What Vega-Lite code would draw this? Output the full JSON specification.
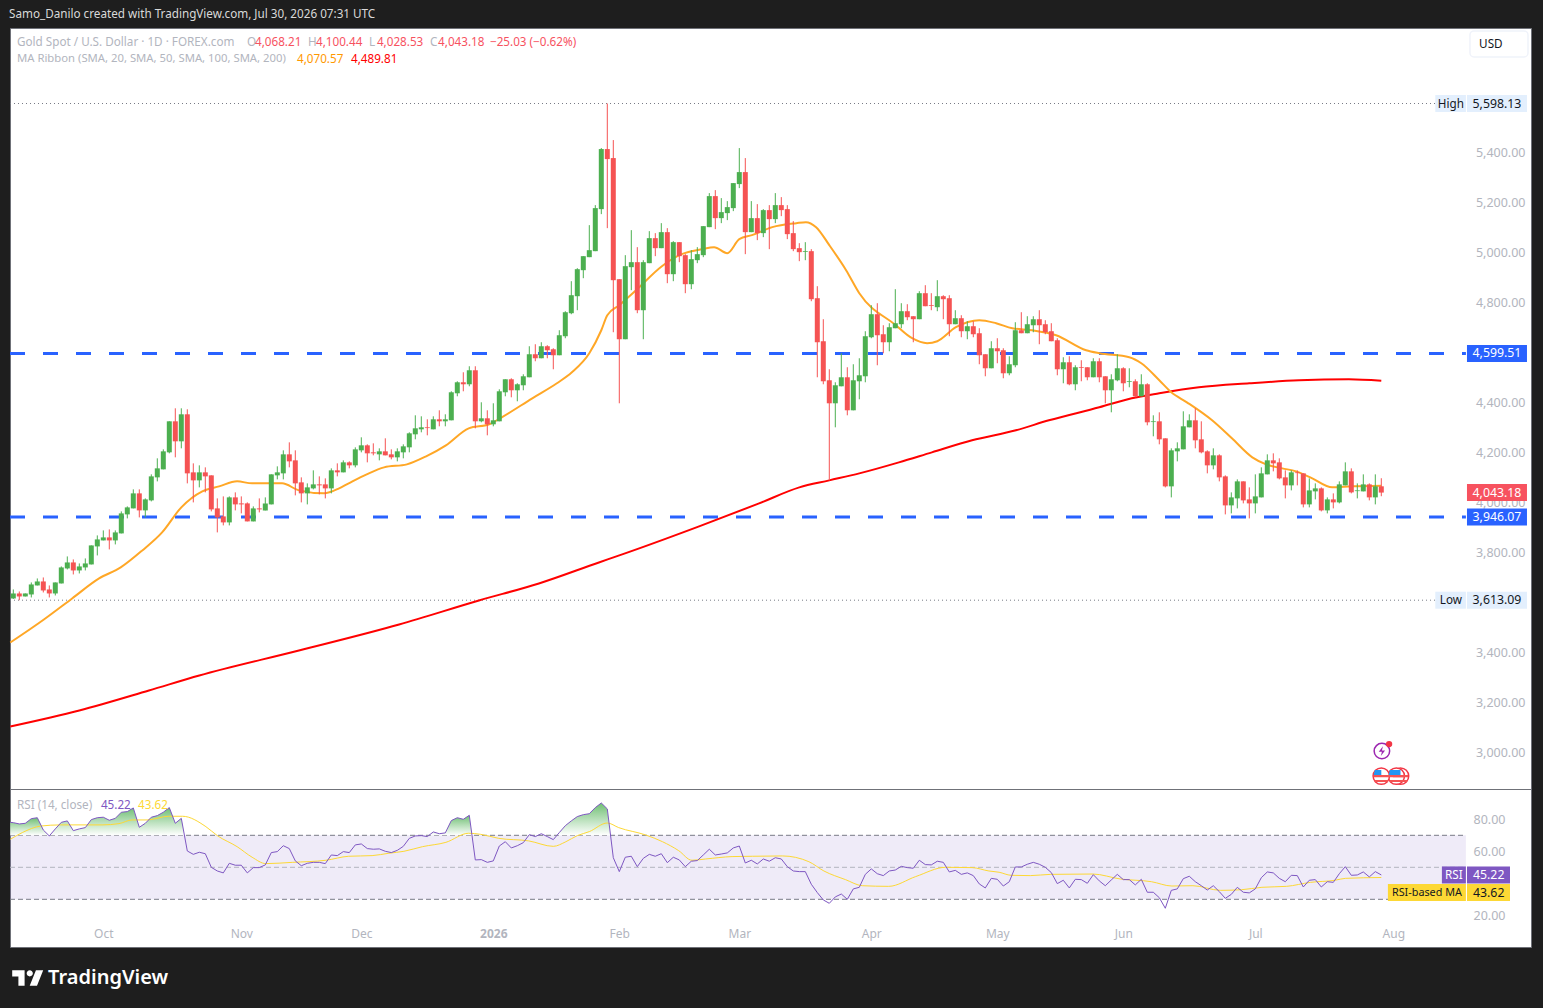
{
"$schema":"https://vega.github.io/schema/vega-lite/v6.json",
"background":"#1e1e1e",
"padding":{"left":5,"top":8,"right":13,"bottom":19},
"spacing":0,
"bounds":"flush",
"config":{"font":"Noto Sans","view":{"fill":"#ffffff","stroke":"#6f7178","strokeWidth":1},"axis":{"grid":false,"title":null,"domain":false,"ticks":false,"tickSize":0,"labelColor":"#b2b5be","labelFontSize":12.5},"text":{"fontSize":11.7}},
"datasets":{
"candles":[
{"i":0,"o":3620,"h":3656,"l":3618,"c":3640},{"i":1,"o":3640,"h":3648,"l":3613.09,"c":3628},{"i":2,"o":3628,"h":3640,"l":3628,"c":3640},{"i":3,"o":3636,"h":3684,"l":3624,"c":3676},{"i":4,"o":3672,"h":3700,"l":3672,"c":3688},{"i":5,"o":3688,"h":3704,"l":3644,"c":3652},{"i":6,"o":3656,"h":3672,"l":3624,"c":3640},{"i":7,"o":3640,"h":3684,"l":3632,"c":3684},{"i":8,"o":3680,"h":3748,"l":3680,"c":3744},{"i":9,"o":3740,"h":3788,"l":3736,"c":3764},
{"i":10,"o":3764,"h":3776,"l":3716,"c":3732},{"i":11,"o":3732,"h":3760,"l":3720,"c":3748},{"i":12,"o":3744,"h":3780,"l":3732,"c":3760},{"i":13,"o":3756,"h":3832,"l":3756,"c":3832},{"i":14,"o":3828,"h":3872,"l":3792,"c":3856},{"i":15,"o":3852,"h":3892,"l":3852,"c":3864},{"i":16,"o":3864,"h":3896,"l":3816,"c":3852},{"i":17,"o":3852,"h":3892,"l":3836,"c":3884},{"i":18,"o":3880,"h":3968,"l":3880,"c":3960},{"i":19,"o":3956,"h":3988,"l":3940,"c":3984},
{"i":20,"o":3980,"h":4056,"l":3980,"c":4040},{"i":21,"o":4040,"h":4056,"l":3944,"c":3972},{"i":22,"o":3972,"h":4020,"l":3944,"c":4016},{"i":23,"o":4012,"h":4116,"l":4008,"c":4108},{"i":24,"o":4104,"h":4180,"l":4088,"c":4140},{"i":25,"o":4136,"h":4216,"l":4136,"c":4208},{"i":26,"o":4204,"h":4328,"l":4200,"c":4328},{"i":27,"o":4328,"h":4380,"l":4184,"c":4248},{"i":28,"o":4248,"h":4380,"l":4220,"c":4356},{"i":29,"o":4356,"h":4376,"l":4080,"c":4120},
{"i":30,"o":4124,"h":4160,"l":4004,"c":4092},{"i":31,"o":4092,"h":4152,"l":4064,"c":4124},{"i":32,"o":4124,"h":4144,"l":4044,"c":4108},{"i":33,"o":4112,"h":4112,"l":3968,"c":3976},{"i":34,"o":3980,"h":4020,"l":3884,"c":3944},{"i":35,"o":3948,"h":4028,"l":3912,"c":3924},{"i":36,"o":3924,"h":4028,"l":3912,"c":4024},{"i":37,"o":4024,"h":4044,"l":3972,"c":3996},{"i":38,"o":4000,"h":4028,"l":3960,"c":3996},{"i":39,"o":4000,"h":4004,"l":3928,"c":3928},
{"i":40,"o":3928,"h":3988,"l":3928,"c":3980},{"i":41,"o":3980,"h":4020,"l":3964,"c":3976},{"i":42,"o":3972,"h":4024,"l":3972,"c":4000},{"i":43,"o":3996,"h":4116,"l":3996,"c":4116},{"i":44,"o":4112,"h":4148,"l":4096,"c":4124},{"i":45,"o":4120,"h":4212,"l":4096,"c":4196},{"i":46,"o":4196,"h":4244,"l":4144,"c":4168},{"i":47,"o":4172,"h":4212,"l":4032,"c":4080},{"i":48,"o":4084,"h":4104,"l":4004,"c":4040},{"i":49,"o":4040,"h":4080,"l":3996,"c":4064},
{"i":50,"o":4060,"h":4132,"l":4056,"c":4076},{"i":51,"o":4076,"h":4108,"l":4036,"c":4072},{"i":52,"o":4076,"h":4100,"l":4020,"c":4060},{"i":53,"o":4060,"h":4140,"l":4040,"c":4132},{"i":54,"o":4132,"h":4160,"l":4108,"c":4124},{"i":55,"o":4124,"h":4172,"l":4124,"c":4164},{"i":56,"o":4164,"h":4168,"l":4140,"c":4152},{"i":57,"o":4152,"h":4224,"l":4144,"c":4216},{"i":58,"o":4212,"h":4264,"l":4204,"c":4232},{"i":59,"o":4232,"h":4236,"l":4164,"c":4200},
{"i":60,"o":4204,"h":4240,"l":4192,"c":4200},{"i":61,"o":4196,"h":4220,"l":4172,"c":4208},{"i":62,"o":4208,"h":4260,"l":4192,"c":4192},{"i":63,"o":4196,"h":4216,"l":4176,"c":4184},{"i":64,"o":4184,"h":4220,"l":4168,"c":4208},{"i":65,"o":4204,"h":4236,"l":4180,"c":4228},{"i":66,"o":4224,"h":4284,"l":4204,"c":4280},{"i":67,"o":4276,"h":4352,"l":4256,"c":4300},{"i":68,"o":4296,"h":4348,"l":4284,"c":4304},{"i":69,"o":4304,"h":4336,"l":4272,"c":4301},
{"i":70,"o":4296,"h":4348,"l":4296,"c":4336},{"i":71,"o":4336,"h":4372,"l":4308,"c":4328},{"i":72,"o":4328,"h":4356,"l":4308,"c":4336},{"i":73,"o":4332,"h":4448,"l":4332,"c":4444},{"i":74,"o":4440,"h":4488,"l":4428,"c":4484},{"i":75,"o":4484,"h":4524,"l":4448,"c":4476},{"i":76,"o":4476,"h":4548,"l":4468,"c":4532},{"i":77,"o":4532,"h":4548,"l":4300,"c":4328},{"i":78,"o":4328,"h":4404,"l":4324,"c":4340},{"i":79,"o":4340,"h":4372,"l":4272,"c":4316},
{"i":80,"o":4316,"h":4400,"l":4308,"c":4332},{"i":81,"o":4328,"h":4456,"l":4328,"c":4448},{"i":82,"o":4444,"h":4496,"l":4428,"c":4496},{"i":83,"o":4496,"h":4500,"l":4424,"c":4452},{"i":84,"o":4452,"h":4480,"l":4408,"c":4476},{"i":85,"o":4472,"h":4516,"l":4452,"c":4508},{"i":86,"o":4504,"h":4628,"l":4504,"c":4596},{"i":87,"o":4596,"h":4636,"l":4568,"c":4580},{"i":88,"o":4580,"h":4644,"l":4580,"c":4628},{"i":89,"o":4628,"h":4632,"l":4580,"c":4612},
{"i":90,"o":4616,"h":4620,"l":4536,"c":4592},{"i":91,"o":4592,"h":4692,"l":4592,"c":4672},{"i":92,"o":4668,"h":4768,"l":4660,"c":4764},{"i":93,"o":4760,"h":4888,"l":4756,"c":4832},{"i":94,"o":4828,"h":4940,"l":4772,"c":4936},{"i":95,"o":4932,"h":4988,"l":4900,"c":4988},{"i":96,"o":4984,"h":5112,"l":4984,"c":5012},{"i":97,"o":5008,"h":5192,"l":5008,"c":5180},{"i":98,"o":5176,"h":5420,"l":5156,"c":5416},{"i":99,"o":5416,"h":5598.13,"l":5100,"c":5376},
{"i":100,"o":5380,"h":5452,"l":4684,"c":4892},{"i":101,"o":4896,"h":4896,"l":4400,"c":4656},{"i":102,"o":4656,"h":4992,"l":4656,"c":4948},{"i":103,"o":4944,"h":5092,"l":4852,"c":4964},{"i":104,"o":4964,"h":5024,"l":4760,"c":4772},{"i":105,"o":4772,"h":4972,"l":4656,"c":4964},{"i":106,"o":4960,"h":5088,"l":4960,"c":5060},{"i":107,"o":5060,"h":5080,"l":4988,"c":5020},{"i":108,"o":5020,"h":5120,"l":5020,"c":5084},{"i":109,"o":5084,"h":5100,"l":4880,"c":4916},
{"i":110,"o":4916,"h":5048,"l":4888,"c":5044},{"i":111,"o":5044,"h":5044,"l":4964,"c":4988},{"i":112,"o":4992,"h":4996,"l":4840,"c":4876},{"i":113,"o":4876,"h":5012,"l":4856,"c":4976},{"i":114,"o":4972,"h":5024,"l":4960,"c":4996},{"i":115,"o":4992,"h":5108,"l":4984,"c":5108},{"i":116,"o":5104,"h":5240,"l":5104,"c":5228},{"i":117,"o":5228,"h":5252,"l":5096,"c":5140},{"i":118,"o":5140,"h":5220,"l":5120,"c":5164},{"i":119,"o":5160,"h":5208,"l":5132,"c":5184},
{"i":120,"o":5180,"h":5280,"l":5168,"c":5280},{"i":121,"o":5276,"h":5420,"l":5260,"c":5324},{"i":122,"o":5324,"h":5380,"l":4996,"c":5084},{"i":123,"o":5084,"h":5208,"l":5084,"c":5140},{"i":124,"o":5140,"h":5196,"l":5052,"c":5080},{"i":125,"o":5080,"h":5176,"l":5064,"c":5172},{"i":126,"o":5172,"h":5192,"l":5016,"c":5136},{"i":127,"o":5136,"h":5240,"l":5120,"c":5192},{"i":128,"o":5192,"h":5224,"l":5148,"c":5172},{"i":129,"o":5176,"h":5192,"l":5056,"c":5076},
{"i":130,"o":5080,"h":5128,"l":5008,"c":5016},{"i":131,"o":5020,"h":5040,"l":4968,"c":5004},{"i":132,"o":5005,"h":5044,"l":4972,"c":5008},{"i":133,"o":5008,"h":5016,"l":4808,"c":4816},{"i":134,"o":4820,"h":4868,"l":4504,"c":4644},{"i":135,"o":4648,"h":4736,"l":4476,"c":4488},{"i":136,"o":4492,"h":4536,"l":4092,"c":4400},{"i":137,"o":4400,"h":4484,"l":4304,"c":4472},{"i":138,"o":4468,"h":4600,"l":4468,"c":4504},{"i":139,"o":4504,"h":4544,"l":4352,"c":4372},
{"i":140,"o":4372,"h":4556,"l":4372,"c":4492},{"i":141,"o":4488,"h":4580,"l":4416,"c":4512},{"i":142,"o":4508,"h":4688,"l":4484,"c":4668},{"i":143,"o":4664,"h":4792,"l":4660,"c":4756},{"i":144,"o":4756,"h":4800,"l":4552,"c":4672},{"i":145,"o":4676,"h":4712,"l":4600,"c":4644},{"i":146,"o":4644,"h":4720,"l":4608,"c":4704},{"i":147,"o":4700,"h":4856,"l":4700,"c":4720},{"i":148,"o":4716,"h":4800,"l":4700,"c":4768},{"i":149,"o":4768,"h":4796,"l":4732,"c":4744},
{"i":150,"o":4748,"h":4748,"l":4644,"c":4736},{"i":151,"o":4736,"h":4848,"l":4736,"c":4840},{"i":152,"o":4840,"h":4872,"l":4788,"c":4788},{"i":153,"o":4792,"h":4840,"l":4772,"c":4789},{"i":154,"o":4784,"h":4892,"l":4768,"c":4828},{"i":155,"o":4828,"h":4832,"l":4736,"c":4816},{"i":156,"o":4820,"h":4832,"l":4668,"c":4716},{"i":157,"o":4716,"h":4772,"l":4716,"c":4740},{"i":158,"o":4740,"h":4752,"l":4664,"c":4688},{"i":159,"o":4688,"h":4728,"l":4656,"c":4708},
{"i":160,"o":4708,"h":4728,"l":4664,"c":4676},{"i":161,"o":4680,"h":4700,"l":4556,"c":4592},{"i":162,"o":4596,"h":4596,"l":4508,"c":4540},{"i":163,"o":4540,"h":4648,"l":4540,"c":4620},{"i":164,"o":4620,"h":4660,"l":4560,"c":4608},{"i":165,"o":4612,"h":4620,"l":4500,"c":4520},{"i":166,"o":4520,"h":4588,"l":4512,"c":4556},{"i":167,"o":4552,"h":4724,"l":4544,"c":4692},{"i":168,"o":4692,"h":4764,"l":4680,"c":4680},{"i":169,"o":4680,"h":4748,"l":4680,"c":4716},
{"i":170,"o":4712,"h":4748,"l":4684,"c":4736},{"i":171,"o":4736,"h":4772,"l":4636,"c":4712},{"i":172,"o":4716,"h":4732,"l":4676,"c":4684},{"i":173,"o":4688,"h":4720,"l":4648,"c":4648},{"i":174,"o":4652,"h":4660,"l":4512,"c":4536},{"i":175,"o":4536,"h":4584,"l":4480,"c":4564},{"i":176,"o":4564,"h":4588,"l":4472,"c":4476},{"i":177,"o":4476,"h":4552,"l":4452,"c":4544},{"i":178,"o":4544,"h":4572,"l":4488,"c":4541},{"i":179,"o":4544,"h":4544,"l":4492,"c":4504},
{"i":180,"o":4504,"h":4580,"l":4504,"c":4568},{"i":181,"o":4568,"h":4580,"l":4484,"c":4504},{"i":182,"o":4508,"h":4508,"l":4400,"c":4452},{"i":183,"o":4452,"h":4516,"l":4364,"c":4496},{"i":184,"o":4492,"h":4596,"l":4488,"c":4540},{"i":185,"o":4540,"h":4544,"l":4448,"c":4480},{"i":186,"o":4485,"h":4540,"l":4464,"c":4488},{"i":187,"o":4488,"h":4496,"l":4424,"c":4428},{"i":188,"o":4428,"h":4516,"l":4428,"c":4476},{"i":189,"o":4476,"h":4480,"l":4312,"c":4324},
{"i":190,"o":4325,"h":4352,"l":4268,"c":4328},{"i":191,"o":4328,"h":4364,"l":4236,"c":4256},{"i":192,"o":4260,"h":4260,"l":4064,"c":4068},{"i":193,"o":4068,"h":4220,"l":4024,"c":4212},{"i":194,"o":4208,"h":4244,"l":4168,"c":4220},{"i":195,"o":4216,"h":4368,"l":4216,"c":4308},{"i":196,"o":4304,"h":4356,"l":4304,"c":4332},{"i":197,"o":4332,"h":4380,"l":4220,"c":4252},{"i":198,"o":4256,"h":4328,"l":4200,"c":4204},{"i":199,"o":4208,"h":4212,"l":4120,"c":4152},
{"i":200,"o":4152,"h":4220,"l":4136,"c":4192},{"i":201,"o":4192,"h":4196,"l":4088,"c":4104},{"i":202,"o":4108,"h":4112,"l":3956,"c":3992},{"i":203,"o":3992,"h":4044,"l":3960,"c":4024},{"i":204,"o":4020,"h":4096,"l":3980,"c":4088},{"i":205,"o":4088,"h":4088,"l":4000,"c":4012},{"i":206,"o":4016,"h":4064,"l":3940,"c":4000},{"i":207,"o":4000,"h":4116,"l":3960,"c":4028},{"i":208,"o":4024,"h":4144,"l":4024,"c":4120},{"i":209,"o":4116,"h":4196,"l":4116,"c":4172},
{"i":210,"o":4172,"h":4200,"l":4128,"c":4160},{"i":211,"o":4164,"h":4180,"l":4096,"c":4100},{"i":212,"o":4104,"h":4132,"l":4020,"c":4072},{"i":213,"o":4072,"h":4132,"l":4052,"c":4124},{"i":214,"o":4124,"h":4132,"l":4072,"c":4121},{"i":215,"o":4120,"h":4120,"l":3984,"c":3996},{"i":216,"o":3996,"h":4100,"l":3984,"c":4052},{"i":217,"o":4048,"h":4080,"l":4016,"c":4060},{"i":218,"o":4060,"h":4064,"l":3968,"c":3972},{"i":219,"o":3972,"h":4024,"l":3960,"c":4016},
{"i":220,"o":4016,"h":4040,"l":3980,"c":4004},{"i":221,"o":4004,"h":4088,"l":4000,"c":4076},{"i":222,"o":4072,"h":4164,"l":4072,"c":4128},{"i":223,"o":4128,"h":4140,"l":4040,"c":4044},{"i":224,"o":4049,"h":4080,"l":4020,"c":4052},{"i":225,"o":4048,"h":4116,"l":4048,"c":4076},{"i":226,"o":4076,"h":4080,"l":4012,"c":4024},{"i":227,"o":4024,"h":4116,"l":3996,"c":4068},{"i":228,"o":4068.21,"h":4100.44,"l":4028.53,"c":4043.18}
],
"ma20":[{"i":-0.5,"v":3444},{"i":5.1,"v":3536},{"i":9.8,"v":3620},{"i":14.3,"v":3700},{"i":17.9,"v":3744},{"i":21.5,"v":3812},{"i":24.8,"v":3884},{"i":28,"v":3984},{"i":31.5,"v":4048},{"i":34.3,"v":4068},{"i":37.3,"v":4088},{"i":39.8,"v":4080},{"i":44.8,"v":4080},{"i":47.6,"v":4052},{"i":51.8,"v":4040},{"i":54.3,"v":4060},{"i":55.9,"v":4080},{"i":58.9,"v":4116},{"i":61.8,"v":4144},{"i":65.6,"v":4156},{"i":68.8,"v":4188},{"i":72.1,"v":4232},{"i":75.9,"v":4300},{"i":79.3,"v":4316},{"i":81.4,"v":4344},{"i":86.5,"v":4420},{"i":90.6,"v":4480},{"i":93.1,"v":4524},{"i":96,"v":4600},{"i":98,"v":4692},{"i":99,"v":4752},{"i":101,"v":4792},{"i":103.8,"v":4852},{"i":108.1,"v":4948},{"i":111.4,"v":4996},{"i":114.8,"v":5016},{"i":116.8,"v":5024},{"i":119,"v":5000},{"i":121,"v":5056},{"i":123.1,"v":5072},{"i":126.5,"v":5104},{"i":130.5,"v":5120},{"i":132.1,"v":5124},{"i":133.8,"v":5104},{"i":136,"v":5032},{"i":138.8,"v":4932},{"i":141,"v":4840},{"i":147.1,"v":4712},{"i":149.8,"v":4660},{"i":152.3,"v":4640},{"i":154,"v":4648},{"i":157.1,"v":4704},{"i":161,"v":4732},{"i":163.8,"v":4720},{"i":166.5,"v":4700},{"i":169.8,"v":4692},{"i":173.8,"v":4672},{"i":178.8,"v":4612},{"i":181,"v":4600},{"i":186,"v":4584},{"i":188,"v":4560},{"i":191,"v":4492},{"i":193,"v":4444},{"i":195.6,"v":4404},{"i":199.8,"v":4332},{"i":203.1,"v":4260},{"i":206.5,"v":4184},{"i":208.8,"v":4156},{"i":211.5,"v":4140},{"i":213.8,"v":4128},{"i":216.5,"v":4100},{"i":219.8,"v":4064},{"i":223.1,"v":4068},{"i":228,"v":4070.57}],
"ma200":[{"i":-0.5,"v":3108},{"i":11,"v":3172},{"i":22.6,"v":3252},{"i":31,"v":3312},{"i":47.6,"v":3412},{"i":64.3,"v":3516},{"i":77.6,"v":3612},{"i":87.6,"v":3680},{"i":97.6,"v":3764},{"i":101,"v":3792},{"i":114.3,"v":3908},{"i":124.3,"v":4000},{"i":131,"v":4064},{"i":136,"v":4092},{"i":141,"v":4120},{"i":147.6,"v":4164},{"i":153.1,"v":4204},{"i":159.8,"v":4252},{"i":167.1,"v":4292},{"i":172.6,"v":4332},{"i":181,"v":4384},{"i":186.4,"v":4420},{"i":191,"v":4440},{"i":197.6,"v":4464},{"i":206,"v":4480},{"i":214.3,"v":4492},{"i":222.6,"v":4496},{"i":228,"v":4489.81}],
"priceTags":[{"name":"High","v":5598.13,"kind":"extreme"},{"name":"Low","v":3613.09,"kind":"extreme"},{"name":"","v":4599.51,"kind":"level"},{"name":"","v":3946.07,"kind":"level"},{"name":"","v":4043.18,"kind":"last"}],
"events":[{"i":231.2,"p":2910},{"i":230.5,"p":2910},{"i":228,"p":2910}],
"rsi":[{"i":-0.5,"v":78.1},{"i":0,"v":77.9},{"i":1,"v":77.1},{"i":2,"v":77.5},{"i":3,"v":80.4},{"i":4,"v":81},{"i":5,"v":73.3},{"i":6,"v":69.6},{"i":7,"v":74},{"i":8,"v":78.1},{"i":9,"v":79},{"i":10,"v":72.9},{"i":11,"v":74},{"i":12,"v":74.8},{"i":13,"v":79.8},{"i":14,"v":81},{"i":15,"v":81.3},{"i":16,"v":79.4},{"i":17,"v":80.6},{"i":18,"v":84.4},{"i":19,"v":84.8},{"i":20,"v":87.1},{"i":21,"v":75},{"i":22,"v":77.5},{"i":23,"v":81.3},{"i":24,"v":82.3},{"i":25,"v":84.4},{"i":26,"v":87.3},{"i":27,"v":77.5},{"i":28,"v":80.6},{"i":29,"v":60.2},{"i":30,"v":58.1},{"i":31,"v":59.4},{"i":32,"v":58.5},{"i":33,"v":50},{"i":34,"v":47.7},{"i":35,"v":46.5},{"i":36,"v":52.5},{"i":37,"v":51.3},{"i":38,"v":51.3},{"i":39,"v":46.5},{"i":40,"v":49.8},{"i":41,"v":49.8},{"i":42,"v":51.5},{"i":43,"v":59.2},{"i":44,"v":59.8},{"i":45,"v":63.5},{"i":46,"v":61.7},{"i":47,"v":54},{"i":48,"v":51},{"i":49,"v":52.5},{"i":50,"v":53.1},{"i":51,"v":53.1},{"i":52,"v":52.3},{"i":53,"v":57.7},{"i":54,"v":57.3},{"i":55,"v":59.8},{"i":56,"v":59.2},{"i":57,"v":64},{"i":58,"v":64.6},{"i":59,"v":61.7},{"i":60,"v":61.3},{"i":61,"v":61.5},{"i":62,"v":60},{"i":63,"v":59.2},{"i":64,"v":60.6},{"i":65,"v":63.1},{"i":66,"v":68.1},{"i":67,"v":69.6},{"i":68,"v":69.8},{"i":69,"v":69.2},{"i":70,"v":72.1},{"i":71,"v":71},{"i":72,"v":71.5},{"i":73,"v":79.2},{"i":74,"v":81},{"i":75,"v":80},{"i":76,"v":82.5},{"i":77,"v":54.6},{"i":78,"v":54.8},{"i":79,"v":53.1},{"i":80,"v":54},{"i":81,"v":63.3},{"i":82,"v":66},{"i":83,"v":62.1},{"i":84,"v":63.5},{"i":85,"v":65.4},{"i":86,"v":70.4},{"i":87,"v":69.2},{"i":88,"v":71},{"i":89,"v":69.2},{"i":90,"v":67.3},{"i":91,"v":71.7},{"i":92,"v":76},{"i":93,"v":79},{"i":94,"v":81.7},{"i":95,"v":82.9},{"i":96,"v":83.5},{"i":97,"v":87.3},{"i":98,"v":90.2},{"i":99,"v":86.5},{"i":100,"v":56},{"i":101,"v":47.3},{"i":102,"v":56.3},{"i":103,"v":56.9},{"i":104,"v":50.4},{"i":105,"v":55.6},{"i":106,"v":58.1},{"i":107,"v":56.9},{"i":108,"v":58.5},{"i":109,"v":52.9},{"i":110,"v":56.3},{"i":111,"v":54.6},{"i":112,"v":50.4},{"i":113,"v":53.8},{"i":114,"v":54.2},{"i":115,"v":57.7},{"i":116,"v":61.3},{"i":117,"v":57.7},{"i":118,"v":58.3},{"i":119,"v":59},{"i":120,"v":62.1},{"i":121,"v":63.3},{"i":122,"v":52.7},{"i":123,"v":54.4},{"i":124,"v":52.1},{"i":125,"v":55.2},{"i":126,"v":53.8},{"i":127,"v":56},{"i":128,"v":55.2},{"i":129,"v":50.4},{"i":130,"v":47.7},{"i":131,"v":47.3},{"i":132,"v":47.3},{"i":133,"v":39.4},{"i":134,"v":34.2},{"i":135,"v":29.6},{"i":136,"v":27.5},{"i":137,"v":31.5},{"i":138,"v":33.3},{"i":139,"v":30},{"i":140,"v":36.5},{"i":141,"v":37.5},{"i":142,"v":45.6},{"i":143,"v":49},{"i":144,"v":46},{"i":145,"v":44.8},{"i":146,"v":47.7},{"i":147,"v":48.3},{"i":148,"v":50.6},{"i":149,"v":49.8},{"i":150,"v":49.4},{"i":151,"v":54.4},{"i":152,"v":51.7},{"i":153,"v":51.5},{"i":154,"v":53.8},{"i":155,"v":53.1},{"i":156,"v":47.1},{"i":157,"v":48.1},{"i":158,"v":45.6},{"i":159,"v":46.5},{"i":160,"v":44.8},{"i":161,"v":39.6},{"i":162,"v":37.1},{"i":163,"v":43.1},{"i":164,"v":42.5},{"i":165,"v":38.3},{"i":166,"v":41},{"i":167,"v":50.2},{"i":168,"v":50.2},{"i":169,"v":51.9},{"i":170,"v":53.1},{"i":171,"v":51.9},{"i":172,"v":50},{"i":173,"v":46.7},{"i":174,"v":39.8},{"i":175,"v":41.9},{"i":176,"v":37.1},{"i":177,"v":42.5},{"i":178,"v":42.3},{"i":179,"v":40},{"i":180,"v":45.4},{"i":181,"v":41.5},{"i":182,"v":38.5},{"i":183,"v":42.1},{"i":184,"v":45.6},{"i":185,"v":42.3},{"i":186,"v":42.3},{"i":187,"v":39},{"i":188,"v":42.5},{"i":189,"v":34.4},{"i":190,"v":34.4},{"i":191,"v":31},{"i":192,"v":24.4},{"i":193,"v":35.6},{"i":194,"v":36.5},{"i":195,"v":42.9},{"i":196,"v":44.4},{"i":197,"v":41},{"i":198,"v":38.5},{"i":199,"v":35.8},{"i":200,"v":38.5},{"i":201,"v":34.8},{"i":202,"v":30.6},{"i":203,"v":33.1},{"i":204,"v":37.5},{"i":205,"v":34.4},{"i":206,"v":34},{"i":207,"v":36.5},{"i":208,"v":43.5},{"i":209,"v":47.1},{"i":210,"v":46.5},{"i":211,"v":43.1},{"i":212,"v":41},{"i":213,"v":45},{"i":214,"v":44.8},{"i":215,"v":37.7},{"i":216,"v":41.9},{"i":217,"v":42.3},{"i":218,"v":37.7},{"i":219,"v":41},{"i":220,"v":40.6},{"i":221,"v":46},{"i":222,"v":50.4},{"i":223,"v":45},{"i":224,"v":45.2},{"i":225,"v":47.1},{"i":226,"v":44},{"i":227,"v":47.3},{"i":228,"v":45.22}],
"rsiMa":[{"i":-0.5,"v":67.5},{"i":1.5,"v":71.7},{"i":4.6,"v":75.8},{"i":7.9,"v":76.5},{"i":14.8,"v":76.5},{"i":17.6,"v":77.3},{"i":19.8,"v":79.6},{"i":22.3,"v":79.6},{"i":25.9,"v":81.9},{"i":28.2,"v":81.9},{"i":32.1,"v":75.4},{"i":34,"v":69.8},{"i":37.3,"v":62.9},{"i":39.8,"v":56.3},{"i":42.1,"v":52.3},{"i":46.5,"v":53.1},{"i":52.1,"v":54.4},{"i":55.9,"v":56.9},{"i":59.8,"v":57.3},{"i":62.6,"v":58.8},{"i":65.1,"v":60},{"i":68.2,"v":62.9},{"i":72.1,"v":65.6},{"i":75.9,"v":71.3},{"i":77.9,"v":70.6},{"i":80.9,"v":68.1},{"i":85.9,"v":66.5},{"i":90,"v":63.1},{"i":92.1,"v":66},{"i":94,"v":69.8},{"i":96,"v":72.3},{"i":99,"v":77.7},{"i":100.9,"v":74.8},{"i":105.4,"v":70.2},{"i":108.2,"v":66},{"i":110.9,"v":60.4},{"i":113.1,"v":54.4},{"i":115.4,"v":55.2},{"i":119.8,"v":56.7},{"i":123.2,"v":56.9},{"i":128.2,"v":57.1},{"i":132.6,"v":53.5},{"i":135.1,"v":47.7},{"i":138.7,"v":42.3},{"i":141.5,"v":38.5},{"i":145.9,"v":38.1},{"i":150.4,"v":44.2},{"i":155.4,"v":50},{"i":159.8,"v":49.8},{"i":162.6,"v":47.7},{"i":164.3,"v":46.9},{"i":166.3,"v":45},{"i":169.5,"v":44.8},{"i":172.9,"v":45.6},{"i":179.9,"v":45.8},{"i":184.5,"v":42.7},{"i":189.7,"v":41},{"i":193.1,"v":38.3},{"i":196.6,"v":38.5},{"i":201.2,"v":35.6},{"i":204.7,"v":36},{"i":208.1,"v":37.5},{"i":212.2,"v":38.1},{"i":216.2,"v":40.6},{"i":220.3,"v":41.9},{"i":222,"v":43.1},{"i":228,"v":43.62}],
"overbought":[{"seg":"a","i":-0.5,"v":78.1},{"seg":"a","i":0,"v":77.9},{"seg":"a","i":1,"v":77.1},{"seg":"a","i":2,"v":77.5},{"seg":"a","i":3,"v":80.4},{"seg":"a","i":4,"v":81},{"seg":"a","i":5,"v":73.3},{"seg":"a","i":5.9,"v":70},
{"seg":"b","i":6.1,"v":70},{"seg":"b","i":7,"v":74},{"seg":"b","i":8,"v":78.1},{"seg":"b","i":9,"v":79},{"seg":"b","i":10,"v":72.9},{"seg":"b","i":11,"v":74},{"seg":"b","i":12,"v":74.8},{"seg":"b","i":13,"v":79.8},{"seg":"b","i":14,"v":81},{"seg":"b","i":15,"v":81.3},{"seg":"b","i":16,"v":79.4},{"seg":"b","i":17,"v":80.6},{"seg":"b","i":18,"v":84.4},{"seg":"b","i":19,"v":84.8},{"seg":"b","i":20,"v":87.1},{"seg":"b","i":21,"v":75},{"seg":"b","i":22,"v":77.5},{"seg":"b","i":23,"v":81.3},{"seg":"b","i":24,"v":82.3},{"seg":"b","i":25,"v":84.4},{"seg":"b","i":26,"v":87.3},{"seg":"b","i":27,"v":77.5},{"seg":"b","i":28,"v":80.6},{"seg":"b","i":28.5,"v":70},
{"seg":"c","i":69.4,"v":70},{"seg":"c","i":70,"v":72.1},{"seg":"c","i":71,"v":71},{"seg":"c","i":72,"v":71.5},{"seg":"c","i":73,"v":79.2},{"seg":"c","i":74,"v":81},{"seg":"c","i":75,"v":80},{"seg":"c","i":76,"v":82.5},{"seg":"c","i":76.4,"v":70},
{"seg":"d","i":90.7,"v":70},{"seg":"d","i":91,"v":71.7},{"seg":"d","i":92,"v":76},{"seg":"d","i":93,"v":79},{"seg":"d","i":94,"v":81.7},{"seg":"d","i":95,"v":82.9},{"seg":"d","i":96,"v":83.5},{"seg":"d","i":97,"v":87.3},{"seg":"d","i":98,"v":90.2},{"seg":"d","i":99,"v":86.5},{"seg":"d","i":99.5,"v":70}]
},
"vconcat":[
{"width":1521,"height":761,"data":{"values":[{}]},
"layer":[
{"data":{"name":"priceTags"},"transform":[{"filter":"datum.kind=='extreme'"}],"mark":{"type":"rule","color":"#787b86","strokeWidth":1,"strokeDash":[1,3]},"encoding":{"x":{"datum":-0.55,"type":"quantitative","scale":{"domain":[-0.55,252.95],"nice":false,"zero":false,"padding":0},"axis":{"title":null,"labels":false,"domain":true,"domainColor":"#2a2e39","domainWidth":1}},"x2":{"datum":237},"y":{"field":"v","type":"quantitative","scale":{"domain":[2858.5,5899.9],"nice":false,"zero":false},"axis":{"orient":"right","values":[3000,3200,3400,3800,4000,4200,4400,4800,5000,5200,5400],"format":",.2f","labelAlign":"right","labelPadding":-6,"labelOffset":-1}}}},
{"data":{"name":"priceTags"},"transform":[{"filter":"datum.kind=='level'"}],"mark":{"type":"rule","color":"#2962ff","strokeWidth":3,"strokeDash":[15,18]},"encoding":{"x":{"datum":-0.55,"type":"quantitative"},"x2":{"datum":242.1},"y":{"field":"v","type":"quantitative"}}},
{"data":{"name":"ma200"},"mark":{"type":"line","color":"#ff0000","strokeWidth":2,"interpolate":"monotone"},"encoding":{"x":{"field":"i","type":"quantitative"},"y":{"field":"v","type":"quantitative"}}},
{"data":{"name":"ma20"},"mark":{"type":"line","color":"#ffa726","strokeWidth":2,"interpolate":"monotone"},"encoding":{"x":{"field":"i","type":"quantitative"},"y":{"field":"v","type":"quantitative"}}},
{"data":{"name":"candles"},"mark":{"type":"rule","strokeWidth":1},"encoding":{"x":{"field":"i","type":"quantitative"},"y":{"field":"l","type":"quantitative"},"y2":{"field":"h"},"color":{"condition":{"test":"datum.c>=datum.o","value":"#4caf50"},"value":"#f55353"}}},
{"data":{"name":"candles"},"mark":{"type":"bar","size":5},"encoding":{"x":{"field":"i","type":"quantitative"},"y":{"field":"o","type":"quantitative"},"y2":{"field":"c"},"color":{"condition":{"test":"datum.c>=datum.o","value":"#4caf50"},"value":"#f55353"}}},
{"data":{"name":"priceTags"},"mark":{"type":"rule","strokeWidth":17},"encoding":{"x":{"datum":242.28,"type":"quantitative"},"x2":{"datum":252.28},"y":{"field":"v","type":"quantitative"},"color":{"field":"kind","type":"nominal","legend":null,"scale":{"domain":["extreme","level","last"],"range":["#e3effd","#2962ff","#f7525f"]}}}},
{"data":{"name":"priceTags"},"mark":{"type":"text","align":"center","baseline":"middle","fontSize":12.3},"encoding":{"x":{"datum":247.28,"type":"quantitative"},"y":{"field":"v","type":"quantitative"},"text":{"field":"v","type":"quantitative","format":",.2f"},"color":{"condition":{"test":"datum.kind=='extreme'","value":"#131722"},"value":"#ffffff"}}},
{"data":{"name":"priceTags"},"transform":[{"filter":"datum.kind=='extreme'"}],"mark":{"type":"rule","strokeWidth":17,"color":"#e3effd"},"encoding":{"x":{"datum":237,"type":"quantitative"},"x2":{"datum":242.1},"y":{"field":"v","type":"quantitative"}}},
{"data":{"name":"priceTags"},"transform":[{"filter":"datum.kind=='extreme'"}],"mark":{"type":"text","align":"center","baseline":"middle","color":"#131722"},"encoding":{"x":{"datum":239.6,"type":"quantitative"},"y":{"field":"v","type":"quantitative"},"text":{"field":"name"}}},
{"mark":{"type":"rect","fill":"#ffffff","stroke":"#f0f3fa","strokeWidth":1.5,"cornerRadius":4},"encoding":{"x":{"datum":242.78,"type":"quantitative"},"x2":{"datum":252.45},"y":{"datum":5888,"type":"quantitative"},"y2":{"datum":5784}}},
{"mark":{"type":"text","align":"left","baseline":"middle","color":"#131722"},"encoding":{"x":{"datum":244.3,"type":"quantitative"},"y":{"datum":5836,"type":"quantitative"},"text":{"value":"USD"}}},
{"mark":{"type":"text","align":"left","baseline":"middle","color":"#d9d9d9"},"encoding":{"x":{"datum":-0.72,"type":"quantitative"},"y":{"datum":5956,"type":"quantitative"},"text":{"value":"Samo_Danilo created with TradingView.com, Jul 30, 2026 07:31 UTC"}}},
{"mark":{"type":"text","align":"left","baseline":"middle","color":"#b2b5be"},"encoding":{"x":{"datum":0.62,"type":"quantitative"},"y":{"datum":5844,"type":"quantitative"},"text":{"value":"Gold Spot / U.S. Dollar · 1D · FOREX.com"}}},
{"mark":{"type":"text","align":"left","baseline":"middle","color":"#b2b5be"},"encoding":{"x":{"datum":38.95,"type":"quantitative"},"y":{"datum":5844,"type":"quantitative"},"text":{"value":"O"}}},
{"mark":{"type":"text","align":"left","baseline":"middle","color":"#f7525f"},"encoding":{"x":{"datum":40.28,"type":"quantitative"},"y":{"datum":5844,"type":"quantitative"},"text":{"value":"4,068.21"}}},
{"mark":{"type":"text","align":"left","baseline":"middle","color":"#b2b5be"},"encoding":{"x":{"datum":49.1,"type":"quantitative"},"y":{"datum":5844,"type":"quantitative"},"text":{"value":"H"}}},
{"mark":{"type":"text","align":"left","baseline":"middle","color":"#f7525f"},"encoding":{"x":{"datum":50.45,"type":"quantitative"},"y":{"datum":5844,"type":"quantitative"},"text":{"value":"4,100.44"}}},
{"mark":{"type":"text","align":"left","baseline":"middle","color":"#b2b5be"},"encoding":{"x":{"datum":59.3,"type":"quantitative"},"y":{"datum":5844,"type":"quantitative"},"text":{"value":"L"}}},
{"mark":{"type":"text","align":"left","baseline":"middle","color":"#f7525f"},"encoding":{"x":{"datum":60.6,"type":"quantitative"},"y":{"datum":5844,"type":"quantitative"},"text":{"value":"4,028.53"}}},
{"mark":{"type":"text","align":"left","baseline":"middle","color":"#b2b5be"},"encoding":{"x":{"datum":69.45,"type":"quantitative"},"y":{"datum":5844,"type":"quantitative"},"text":{"value":"C"}}},
{"mark":{"type":"text","align":"left","baseline":"middle","color":"#f7525f"},"encoding":{"x":{"datum":70.8,"type":"quantitative"},"y":{"datum":5844,"type":"quantitative"},"text":{"value":"4,043.18"}}},
{"mark":{"type":"text","align":"left","baseline":"middle","color":"#f7525f"},"encoding":{"x":{"datum":79.45,"type":"quantitative"},"y":{"datum":5844,"type":"quantitative"},"text":{"value":"−25.03 (−0.62%)"}}},
{"mark":{"type":"text","align":"left","baseline":"middle","color":"#b2b5be","fontSize":11.3},"encoding":{"x":{"datum":0.62,"type":"quantitative"},"y":{"datum":5776,"type":"quantitative"},"text":{"value":"MA Ribbon (SMA, 20, SMA, 50, SMA, 100, SMA, 200)"}}},
{"mark":{"type":"text","align":"left","baseline":"middle","color":"#ff9800"},"encoding":{"x":{"datum":47.28,"type":"quantitative"},"y":{"datum":5776,"type":"quantitative"},"text":{"value":"4,070.57"}}},
{"mark":{"type":"text","align":"left","baseline":"middle","color":"#ff0000"},"encoding":{"x":{"datum":56.28,"type":"quantitative"},"y":{"datum":5776,"type":"quantitative"},"text":{"value":"4,489.81"}}},
{"mark":{"type":"point","shape":"circle","filled":true,"fill":"#ffffff","stroke":"#9c27b0","strokeWidth":1.5,"opacity":1,"size":240},"encoding":{"x":{"datum":228.1,"type":"quantitative"},"y":{"datum":3010,"type":"quantitative"}}},
{"mark":{"type":"point","shape":"M0.15 -0.7L-0.45 0.1H0L-0.15 0.7L0.45 -0.1H0Z","filled":true,"fill":"#9c27b0","opacity":1,"size":200},"encoding":{"x":{"datum":228.1,"type":"quantitative"},"y":{"datum":3010,"type":"quantitative"}}},
{"mark":{"type":"point","shape":"circle","filled":true,"fill":"#f23645","opacity":1,"size":40},"encoding":{"x":{"datum":229.3,"type":"quantitative"},"y":{"datum":3038,"type":"quantitative"}}},
{"data":{"name":"events"},"mark":{"type":"point","shape":"circle","filled":true,"fill":"#ffffff","stroke":"#f23645","strokeWidth":1.5,"opacity":1,"size":270},"encoding":{"x":{"field":"i","type":"quantitative"},"y":{"field":"p","type":"quantitative"}}},
{"data":{"name":"events"},"mark":{"type":"point","shape":"M-0.85 -0.12H0.85V0.14H-0.85Z M-0.75 0.42H0.75V0.66H-0.75Z","filled":true,"fill":"#f55353","opacity":1,"size":324},"encoding":{"x":{"field":"i","type":"quantitative"},"y":{"field":"p","type":"quantitative"}}},
{"data":{"name":"events"},"mark":{"type":"point","shape":"M-0.72 -0.68H0V-0.12H-0.85Z","filled":true,"fill":"#2196f3","opacity":1,"size":324},"encoding":{"x":{"field":"i","type":"quantitative"},"y":{"field":"p","type":"quantitative"}}}
]},
{"width":1521,"height":158,"data":{"values":[{}]},
"layer":[
{"mark":{"type":"rect","fill":"#7e57c2","opacity":0.12},"encoding":{"x":{"datum":-0.55,"type":"quantitative","scale":{"domain":[-0.55,252.95],"nice":false,"zero":false,"padding":0},"axis":{"values":[15,38,58,80,101,121,143,164,185,207,230],"labelExpr":"{'15':'Oct','38':'Nov','58':'Dec','80':'2026','101':'Feb','121':'Mar','143':'Apr','164':'May','185':'Jun','207':'Jul','230':'Aug'}[datum.value]","labelBaseline":"middle","labelPadding":-14,"labelFontSize":12,"labelFontWeight":{"condition":{"test":"datum.value==80","value":"bold"},"value":"normal"}}},"x2":{"datum":242.1},"y":{"datum":30,"type":"quantitative","scale":{"domain":[0.19,98.94],"nice":false,"zero":false},"axis":{"orient":"right","values":[20,60,80],"format":".2f","labelAlign":"right","labelPadding":-26}},"y2":{"datum":70}}},
{"mark":{"type":"rule","color":"#787b86","strokeWidth":1,"strokeDash":[5,3]},"encoding":{"x":{"datum":-0.55,"type":"quantitative"},"x2":{"datum":242.1},"y":{"datum":70,"type":"quantitative"}}},
{"mark":{"type":"rule","color":"#787b86","strokeWidth":1,"strokeDash":[5,3]},"encoding":{"x":{"datum":-0.55,"type":"quantitative"},"x2":{"datum":242.1},"y":{"datum":30,"type":"quantitative"}}},
{"mark":{"type":"rule","color":"#b2b5be","strokeWidth":1,"strokeDash":[5,3]},"encoding":{"x":{"datum":-0.55,"type":"quantitative"},"x2":{"datum":242.1},"y":{"datum":50,"type":"quantitative"}}},
{"data":{"name":"overbought"},"mark":{"type":"area","color":{"gradient":"linear","x1":0,"y1":0,"x2":0,"y2":1,"stops":[{"offset":0,"color":"#6fbf73"},{"offset":1,"color":"#ffffff"}]}},"encoding":{"x":{"field":"i","type":"quantitative"},"y":{"field":"v","type":"quantitative"},"y2":{"datum":70},"detail":{"field":"seg"}}},
{"data":{"name":"rsiMa"},"mark":{"type":"line","color":"#fdd835","strokeWidth":1,"interpolate":"monotone"},"encoding":{"x":{"field":"i","type":"quantitative"},"y":{"field":"v","type":"quantitative"}}},
{"data":{"name":"rsi"},"mark":{"type":"line","color":"#7e57c2","strokeWidth":1},"encoding":{"x":{"field":"i","type":"quantitative"},"y":{"field":"v","type":"quantitative"}}},
{"mark":{"type":"text","align":"left","baseline":"middle","color":"#b2b5be"},"encoding":{"x":{"datum":0.62,"type":"quantitative"},"y":{"datum":88.8,"type":"quantitative"},"text":{"value":"RSI (14, close)"}}},
{"mark":{"type":"text","align":"left","baseline":"middle","color":"#7e57c2"},"encoding":{"x":{"datum":14.6,"type":"quantitative"},"y":{"datum":88.8,"type":"quantitative"},"text":{"value":"45.22"}}},
{"mark":{"type":"text","align":"left","baseline":"middle","color":"#fdd835"},"encoding":{"x":{"datum":20.8,"type":"quantitative"},"y":{"datum":88.8,"type":"quantitative"},"text":{"value":"43.62"}}},
{"mark":{"type":"rule","color":"#7e57c2","strokeWidth":17},"encoding":{"x":{"datum":238.1,"type":"quantitative"},"x2":{"datum":242.1},"y":{"datum":45.22,"type":"quantitative"}}},
{"mark":{"type":"rule","color":"#7e57c2","strokeWidth":17},"encoding":{"x":{"datum":242.28,"type":"quantitative"},"x2":{"datum":249.45},"y":{"datum":45.22,"type":"quantitative"}}},
{"mark":{"type":"rule","color":"#fdd835","strokeWidth":17},"encoding":{"x":{"datum":229.1,"type":"quantitative"},"x2":{"datum":242.1},"y":{"datum":34.25,"type":"quantitative"}}},
{"mark":{"type":"rule","color":"#fdd835","strokeWidth":17},"encoding":{"x":{"datum":242.28,"type":"quantitative"},"x2":{"datum":249.45},"y":{"datum":34.25,"type":"quantitative"}}},
{"mark":{"type":"text","align":"center","baseline":"middle","color":"#ffffff"},"encoding":{"x":{"datum":240.1,"type":"quantitative"},"y":{"datum":45.22,"type":"quantitative"},"text":{"value":"RSI"}}},
{"mark":{"type":"text","align":"center","baseline":"middle","color":"#ffffff","fontSize":12.3},"encoding":{"x":{"datum":245.9,"type":"quantitative"},"y":{"datum":45.22,"type":"quantitative"},"text":{"value":"45.22"}}},
{"mark":{"type":"text","align":"center","baseline":"middle","color":"#131722","fontSize":10.8},"encoding":{"x":{"datum":235.6,"type":"quantitative"},"y":{"datum":34.25,"type":"quantitative"},"text":{"value":"RSI-based MA"}}},
{"mark":{"type":"text","align":"center","baseline":"middle","color":"#131722","fontSize":12.3},"encoding":{"x":{"datum":245.9,"type":"quantitative"},"y":{"datum":34.25,"type":"quantitative"},"text":{"value":"43.62"}}},
{"mark":{"type":"point","shape":"M-0.2 -0.5H-1V-0.1H-0.6V0.5H-0.2Z M0.6 0.5H0.13L0.53 -0.5H1Z M0.133 -0.1A0.2 0.2 0 1 0 0.133 -0.5A0.2 0.2 0 0 0 0.133 -0.1Z","filled":true,"fill":"#ffffff","opacity":1,"size":961},"encoding":{"x":{"datum":2.4,"type":"quantitative"},"y":{"datum":-19.2,"type":"quantitative"}}},
{"mark":{"type":"text","align":"left","baseline":"middle","color":"#ffffff","fontSize":20,"fontWeight":600},"encoding":{"x":{"datum":5.8,"type":"quantitative"},"y":{"datum":-19.2,"type":"quantitative"},"text":{"value":"TradingView"}}}
]}
]
}
